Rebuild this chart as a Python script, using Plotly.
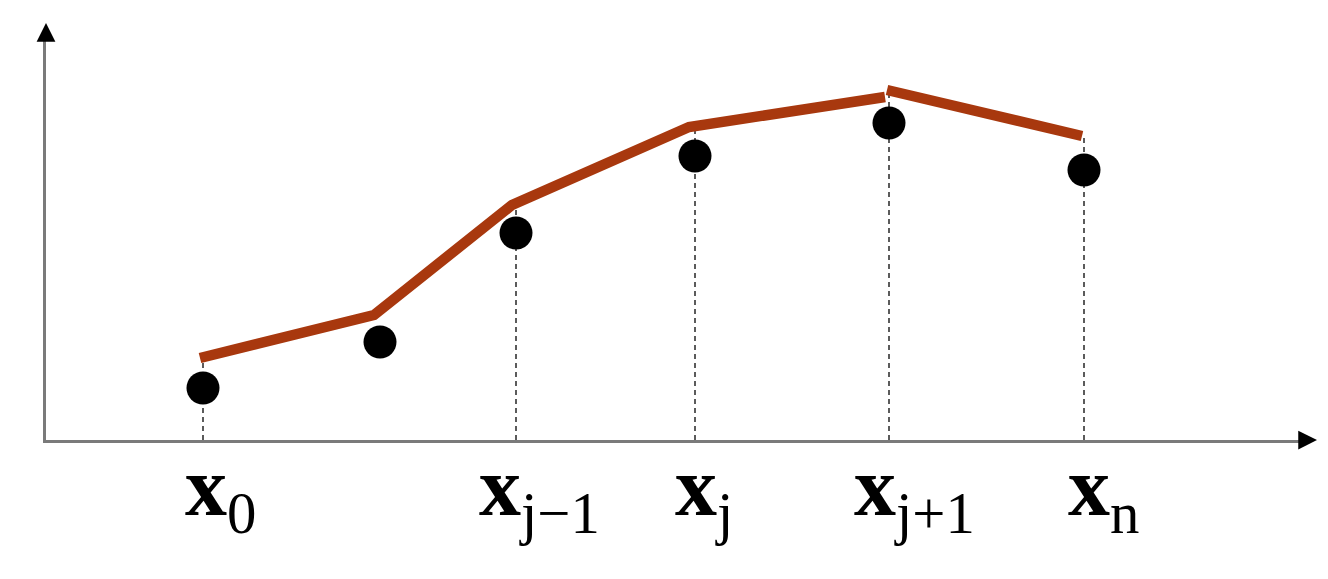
import numpy as np
import plotly.graph_objects as go

# puntos de la muestra (nodos) y sus valores
nodo_x = [1.57, 3.34, 4.70, 6.49, 8.43, 10.38]
nodo_y = [0.52, 0.98, 2.07, 2.84, 3.17, 2.70]

# poligonal (dos tramos, con el quiebre en x_{j+1})
tramo1_x = [1.54, 3.28, 4.66, 6.43, 8.39]
tramo1_y = [0.82, 1.25, 2.35, 3.13, 3.43]
tramo2_x = [8.41, 10.36]
tramo2_y = [3.50, 3.04]

# nodos con etiqueta y linea de referencia
etiqueta_idx = [0, 2, 3, 4, 5]
etiquetas = ["0", "j\u22121", "j", "j+1", "n"]

ROJO = "#A8380E"
x_max, y_max = 12.59, 4.08

fig = go.Figure()

# lineas punteadas verticales desde el eje hasta la poligonal
for i in etiqueta_idx:
    xi = nodo_x[i]
    if xi <= tramo1_x[-1]:
        tope = np.interp(xi, tramo1_x, tramo1_y)
    else:
        tope = np.interp(xi, tramo2_x, tramo2_y)
    fig.add_trace(go.Scatter(
        x=[xi, xi], y=[0, tope], mode="lines",
        line=dict(color="#333333", width=1.6, dash="5px,4px"),
        hoverinfo="skip", showlegend=False, cliponaxis=False,
    ))

# poligonal
for tx, ty in [(tramo1_x, tramo1_y), (tramo2_x, tramo2_y)]:
    fig.add_trace(go.Scatter(
        x=tx, y=ty, mode="lines",
        line=dict(color=ROJO, width=10.5),
        showlegend=False, cliponaxis=False,
    ))

# puntos
fig.add_trace(go.Scatter(
    x=nodo_x, y=nodo_y, mode="markers",
    marker=dict(color="black", size=33, line=dict(width=0)),
    showlegend=False, cliponaxis=False,
))

# puntas de flecha de los ejes
for (px_, py_, ax_, ay_) in [(x_max + 0.12, 0, x_max - 0.02, 0), (0, y_max + 0.09, 0, y_max - 0.02)]:
    fig.add_annotation(
        x=px_, y=py_, ax=ax_, ay=ay_, xref="x", yref="y", axref="x", ayref="y",
        showarrow=True, arrowhead=2, arrowsize=1.5, arrowwidth=2.5,
        arrowcolor="black", standoff=0, startstandoff=0, text="",
    )

# etiquetas x_k
ajuste = [2, -17, 0, -15, 4]
for k, i in enumerate(etiqueta_idx):
    fig.add_annotation(
        x=nodo_x[i], y=0, xref="x", yref="y",
        text=f"<b>x</b><sub>{etiquetas[k]}</sub>",
        showarrow=False, xanchor="left", yanchor="middle",
        xshift=-22 + ajuste[k], yshift=-53,
        font=dict(family="Liberation Serif", size=84, color="black"),
    )

fig.update_layout(
    width=1328, height=579,
    margin=dict(l=38, r=31, t=24, b=147),
    plot_bgcolor="white", paper_bgcolor="white",
    xaxis=dict(range=[0, x_max], showline=True, linecolor="#7a7a7a", linewidth=2.5,
               showgrid=False, zeroline=False, showticklabels=False, ticks=""),
    yaxis=dict(range=[0, y_max], showline=True, linecolor="#7a7a7a", linewidth=2.5,
               showgrid=False, zeroline=False, showticklabels=False, ticks=""),
)

fig.write_html("out.html")
